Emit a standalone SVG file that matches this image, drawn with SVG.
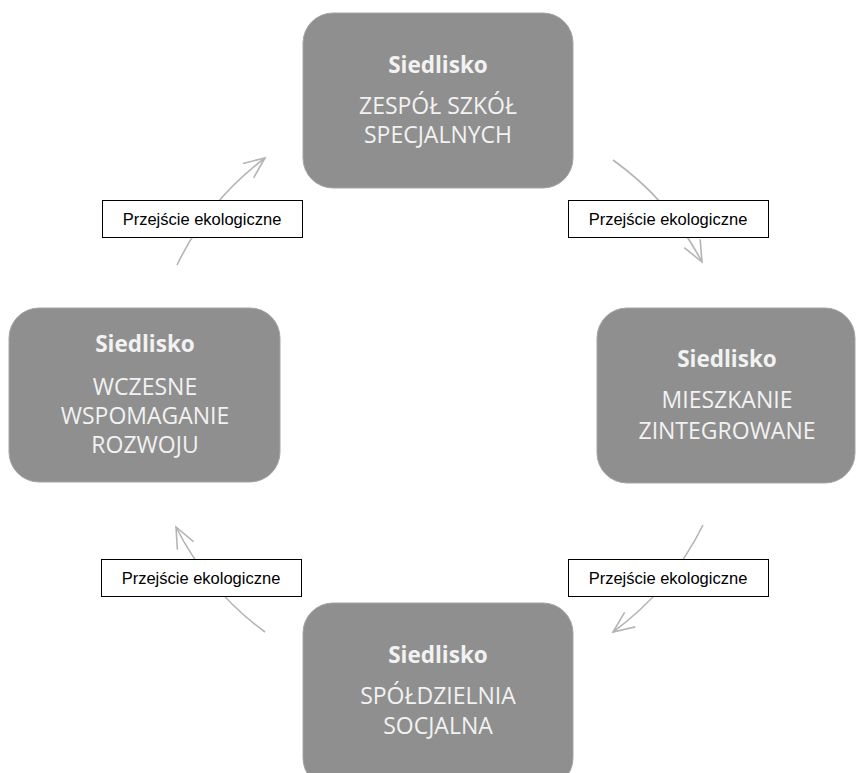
<svg xmlns="http://www.w3.org/2000/svg" width="860" height="773" viewBox="0 0 860 773">
<style>
.node rect{fill:#8f8f8f;stroke:#a5a5a5;stroke-width:1}
.t{font-family:"Open Sans","Liberation Sans",sans-serif;fill:#f2f2f2;text-anchor:middle;font-size:23px}
.b{font-weight:bold;font-size:22.5px}
.arc{fill:none;stroke:#b4b4b4;stroke-width:1.6}
.lbl rect{fill:#ffffff;stroke:#000000;stroke-width:1}
.lbl text{font-family:"Liberation Sans",Arial,sans-serif;font-size:16.5px;fill:#000;text-anchor:middle}
</style>
<defs>
<marker id="ah" markerUnits="userSpaceOnUse" markerWidth="30" markerHeight="30" viewBox="-25 -15 30 30" refX="0" refY="0" orient="auto">
<path d="M -21 -9 L 0 0 L -21 9" fill="none" stroke="#b4b4b4" stroke-width="1.6"/>
</marker>
</defs>
<rect width="860" height="773" fill="#ffffff"/>
<g id="connectors">
<path class="arc" d="M 177 265 A 294 294 0 0 1 265 158" marker-end="url(#ah)"/>
<path class="arc" d="M 613 160 A 294 294 0 0 1 702 262" marker-end="url(#ah)"/>
<path class="arc" d="M 703 525 A 294 294 0 0 1 613 632" marker-end="url(#ah)"/>
<path class="arc" d="M 265 632 A 294 294 0 0 1 176 527" marker-end="url(#ah)"/>
</g>
<g id="node-top" class="node">
<rect x="303" y="13" width="270" height="175" rx="30"/>
<text class="t b" x="438" y="73">Siedlisko</text>
<text class="t" x="438" y="114">ZESPÓŁ SZKÓŁ</text>
<text class="t" x="438" y="143">SPECJALNYCH</text>
</g>
<g id="node-right" class="node">
<rect x="597" y="308" width="258" height="175" rx="30"/>
<text class="t b" x="727" y="367">Siedlisko</text>
<text class="t" x="727" y="408">MIESZKANIE</text>
<text class="t" x="727" y="439">ZINTEGROWANE</text>
</g>
<g id="node-bottom" class="node">
<rect x="303" y="603" width="270" height="185" rx="30"/>
<text class="t b" x="438" y="663">Siedlisko</text>
<text class="t" x="438" y="704">SPÓŁDZIELNIA</text>
<text class="t" x="438" y="734">SOCJALNA</text>
</g>
<g id="node-left" class="node">
<rect x="9" y="308" width="271" height="174" rx="30"/>
<text class="t b" x="145" y="352">Siedlisko</text>
<text class="t" x="145" y="395">WCZESNE</text>
<text class="t" x="145" y="424">WSPOMAGANIE</text>
<text class="t" x="145" y="453">ROZWOJU</text>
</g>
<g id="label-tl" class="lbl">
<rect x="102.5" y="200.5" width="200" height="37"/>
<text x="202" y="225">Przejście ekologiczne</text>
</g>
<g id="label-tr" class="lbl">
<rect x="568.5" y="200.5" width="200" height="37"/>
<text x="668" y="225">Przejście ekologiczne</text>
</g>
<g id="label-br" class="lbl">
<rect x="568.5" y="559.5" width="200" height="37"/>
<text x="668" y="584">Przejście ekologiczne</text>
</g>
<g id="label-bl" class="lbl">
<rect x="101.5" y="559.5" width="200" height="37"/>
<text x="201" y="584">Przejście ekologiczne</text>
</g>
</svg>
